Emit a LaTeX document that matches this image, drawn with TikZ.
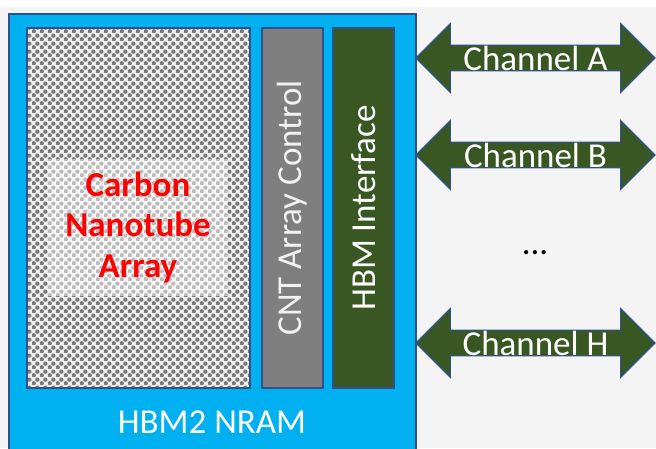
\documentclass[tikz,border=0pt]{standalone}
\usepackage{fontspec}
\setmainfont{Carlito}
\usetikzlibrary{shapes.arrows,patterns}
\definecolor{PageBg}  {RGB}{244,244,244}
\definecolor{ChipFill}{RGB}{0,176,240}
\definecolor{EdgeLine}{RGB}{47,82,143}
\definecolor{CtrlFill}{RGB}{127,127,127}
\definecolor{IfFill}  {RGB}{56,87,35}
\definecolor{DotFill} {RGB}{120,120,120}
\definecolor{DotBg}   {RGB}{236,236,236}
\definecolor{TxtLight}{RGB}{242,242,242}
\pgfdeclarepatternformonly{cntdots}{\pgfpointorigin}{\pgfqpoint{8pt}{8pt}}{\pgfqpoint{8pt}{8pt}}{%
  \pgfpathcircle{\pgfqpoint{2pt}{2pt}}{2.4pt}%
  \pgfpathcircle{\pgfqpoint{6pt}{6pt}}{2.4pt}%
  \pgfusepath{fill}}
\tikzset{
  big/.style={font=\fontsize{35}{40.5}\selectfont},
  nd_array/.style={rectangle,draw=EdgeLine,line width=1.2pt,preaction={fill=DotBg},pattern=cntdots,pattern color=DotFill,minimum width=223pt,minimum height=360pt,inner sep=0pt},
  nd_core/.style={rectangle,fill=white,fill opacity=0.5,text opacity=1,minimum width=180pt,minimum height=137pt,inner sep=0pt,text=red,align=center,font=\fontsize{35}{40.5}\selectfont\bfseries},
  nd_bar/.style={rectangle,draw=EdgeLine,line width=1.2pt,rotate=90,minimum width=360pt,minimum height=61pt,inner sep=0pt,big},
  nd_chan/.style={double arrow,double arrow head extend=21.5pt,double arrow tip angle=90,draw=EdgeLine,line width=1.2pt,fill=IfFill,minimum height=239pt,minimum width=46pt,inner sep=0pt,text=white,big},
}

\begin{document}
\begin{tikzpicture}[x=1pt,y=-1pt]

% backgrounds
\useasboundingbox (0,0) rectangle (656,448);
\clip (0,0) rectangle (656,448);
\fill[white] (0,0) rectangle (656,448);
\fill[PageBg] (0,7) rectangle (656,448);
\draw[EdgeLine,line width=1.5pt,fill=ChipFill] (9,14) rectangle (416,460);

% chip blocks
\node[nd_array] at (138.5,208) (ARR){};
\node[nd_core]  at (138,227) (CORE){Carbon\\Nanotube\\Array};
\node[nd_bar,fill=CtrlFill,text=TxtLight] at (292.5,208) (CTL){CNT Array Control};
\node[nd_bar,fill=IfFill,text=white]      at (363.5,208) (HBI){HBM Interface};
\node[big,text=white] at (212,422.5) (CHIP){HBM2 NRAM};

% channels
\node[nd_chan] at (535.5,58)  (CHA){Channel A};
\node[nd_chan] at (535.5,155) (CHB){Channel B};
\node[nd_chan] at (535.5,343) (CHH){Channel H};
\node[big,anchor=base] at (535,254) (MORE){...};

\end{tikzpicture}
\end{document}
